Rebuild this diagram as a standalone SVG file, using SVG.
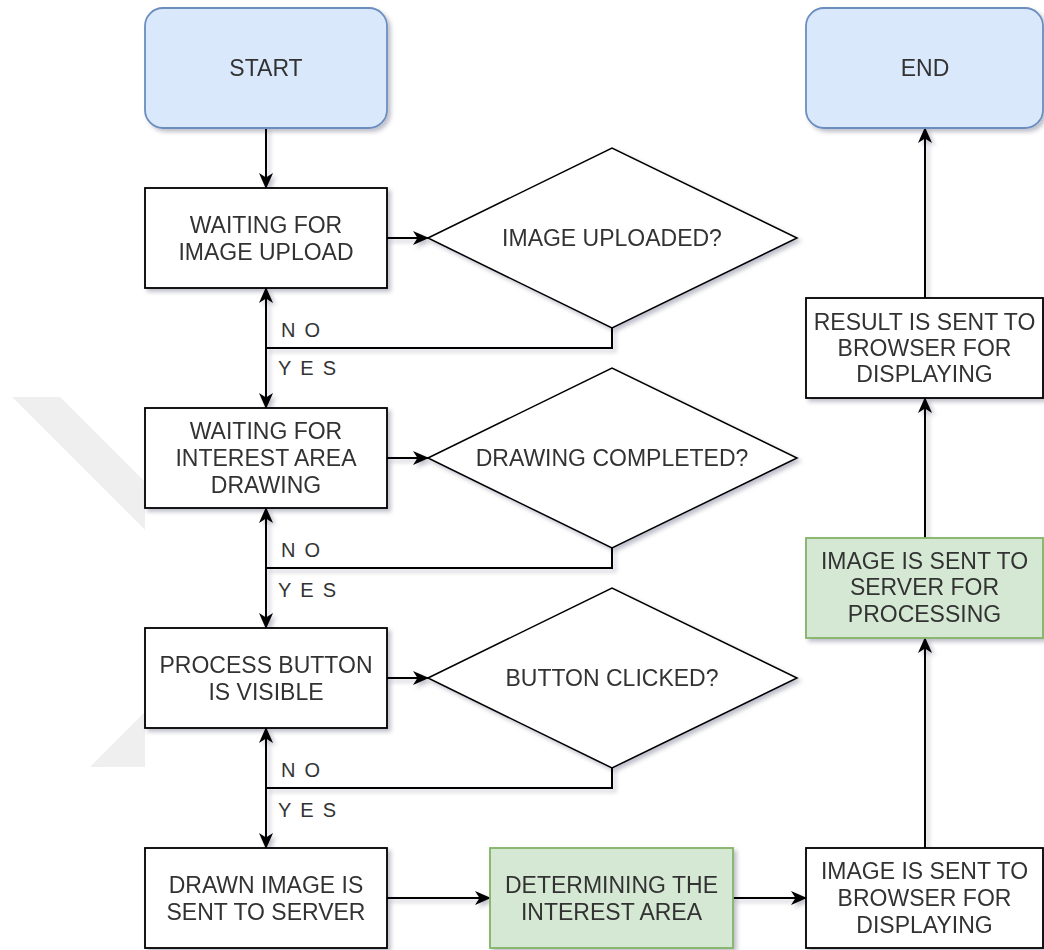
<svg xmlns="http://www.w3.org/2000/svg" width="1044" height="950" viewBox="0 0 1044 950">
<style>
text{font-family:"Liberation Sans",Arial,sans-serif;font-size:23px;fill:#333333;text-anchor:middle;dominant-baseline:central}
.lbl{font-size:20px;text-anchor:start;letter-spacing:9px}
.box{fill:#ffffff;stroke:#000000;stroke-width:1.8}
.term{fill:#dae8fc;stroke:#6c8ebf;stroke-width:1.8}
.grn{fill:#d5e8d4;stroke:#82b366;stroke-width:1.8}
.dia{fill:#ffffff;stroke:#000000;stroke-width:1.5}
.edge{fill:none;stroke:#000000;stroke-width:2}
.wm{fill:#efefef}
</style>
<defs>
<filter id="sh" x="-10%" y="-10%" width="130%" height="130%">
<feDropShadow dx="3" dy="3" stdDeviation="2" flood-color="#000033" flood-opacity="0.25"/>
</filter>
<marker id="arr" viewBox="0 0 16 14" refX="15" refY="7" markerWidth="16" markerHeight="14" markerUnits="userSpaceOnUse" orient="auto">
<path d="M0,0 L16,7 L0,14 L4.5,7 Z" fill="#000000"/>
</marker>
</defs>
<rect width="1044" height="950" fill="#ffffff"/>
<g id="watermark">
<polygon class="wm" points="12,397 60,397 145,482 145,530"/>
<polygon class="wm" points="145,712 90,767 145,767"/>
</g>
<g id="connectors" filter="url(#sh)">
<path class="edge" d="M266,128 V188" marker-end="url(#arr)"/>
<path class="edge" d="M387,238 H428" marker-end="url(#arr)"/>
<path class="edge" d="M612,328 V348 H266 V288" marker-end="url(#arr)"/>
<path class="edge" d="M266,348 V408" marker-end="url(#arr)"/>
<path class="edge" d="M387,458 H428" marker-end="url(#arr)"/>
<path class="edge" d="M612,548 V568 H266 V508" marker-end="url(#arr)"/>
<path class="edge" d="M266,568 V628" marker-end="url(#arr)"/>
<path class="edge" d="M387,678 H428" marker-end="url(#arr)"/>
<path class="edge" d="M612,768 V788 H266 V728" marker-end="url(#arr)"/>
<path class="edge" d="M266,788 V848" marker-end="url(#arr)"/>
<path class="edge" d="M387,898 H490" marker-end="url(#arr)"/>
<path class="edge" d="M733,898 H806" marker-end="url(#arr)"/>
<path class="edge" d="M925,848 V638" marker-end="url(#arr)"/>
<path class="edge" d="M925,538 V398" marker-end="url(#arr)"/>
<path class="edge" d="M925,298 V128" marker-end="url(#arr)"/>
</g>
<g id="edge-labels">
<text class="lbl" x="281" y="330">NO</text>
<text class="lbl" x="278" y="368">YES</text>
<text class="lbl" x="281" y="550">NO</text>
<text class="lbl" x="278" y="590">YES</text>
<text class="lbl" x="281" y="770">NO</text>
<text class="lbl" x="278" y="810">YES</text>
</g>
<g id="start" filter="url(#sh)">
<rect class="term" x="145" y="8" width="242" height="120" rx="18"/>
<text x="266" y="68">START</text>
</g>
<g id="end" filter="url(#sh)">
<rect class="term" x="806" y="8" width="237" height="120" rx="18"/>
<text x="925" y="68">END</text>
</g>
<g id="wait-upload" filter="url(#sh)">
<rect class="box" x="145" y="188" width="242" height="100"/>
<text x="266" y="224.5">WAITING FOR</text>
<text x="266" y="251.5">IMAGE UPLOAD</text>
</g>
<g id="dec-uploaded" filter="url(#sh)">
<polygon class="dia" points="428,238 612,148 797,238 612,328"/>
<text x="612" y="238">IMAGE UPLOADED?</text>
</g>
<g id="wait-drawing" filter="url(#sh)">
<rect class="box" x="145" y="408" width="242" height="100"/>
<text x="266" y="431">WAITING FOR</text>
<text x="266" y="458">INTEREST AREA</text>
<text x="266" y="485">DRAWING</text>
</g>
<g id="dec-drawing" filter="url(#sh)">
<polygon class="dia" points="428,458 612,368 797,458 612,548"/>
<text x="612" y="458">DRAWING COMPLETED?</text>
</g>
<g id="process-visible" filter="url(#sh)">
<rect class="box" x="145" y="628" width="242" height="100"/>
<text x="266" y="664.5">PROCESS BUTTON</text>
<text x="266" y="691.5">IS VISIBLE</text>
</g>
<g id="dec-clicked" filter="url(#sh)">
<polygon class="dia" points="428,678 612,588 797,678 612,768"/>
<text x="612" y="678">BUTTON CLICKED?</text>
</g>
<g id="drawn-sent" filter="url(#sh)">
<rect class="box" x="145" y="848" width="242" height="100"/>
<text x="266" y="884.5">DRAWN IMAGE IS</text>
<text x="266" y="911.5">SENT TO SERVER</text>
</g>
<g id="determining" filter="url(#sh)">
<rect class="grn" x="490" y="848" width="243" height="100"/>
<text x="611.5" y="884.5">DETERMINING THE</text>
<text x="611.5" y="911.5">INTEREST AREA</text>
</g>
<g id="image-browser" filter="url(#sh)">
<rect class="box" x="806" y="848" width="237" height="100"/>
<text x="924.5" y="871">IMAGE IS SENT TO</text>
<text x="924.5" y="898">BROWSER FOR</text>
<text x="924.5" y="925">DISPLAYING</text>
</g>
<g id="image-server" filter="url(#sh)">
<rect class="grn" x="806" y="538" width="237" height="100"/>
<text x="924.5" y="561">IMAGE IS SENT TO</text>
<text x="924.5" y="587">SERVER FOR</text>
<text x="924.5" y="614">PROCESSING</text>
</g>
<g id="result-browser" filter="url(#sh)">
<rect class="box" x="806" y="298" width="237" height="100"/>
<text x="924.5" y="322">RESULT IS SENT TO</text>
<text x="924.5" y="348">BROWSER FOR</text>
<text x="924.5" y="374">DISPLAYING</text>
</g>
</svg>
